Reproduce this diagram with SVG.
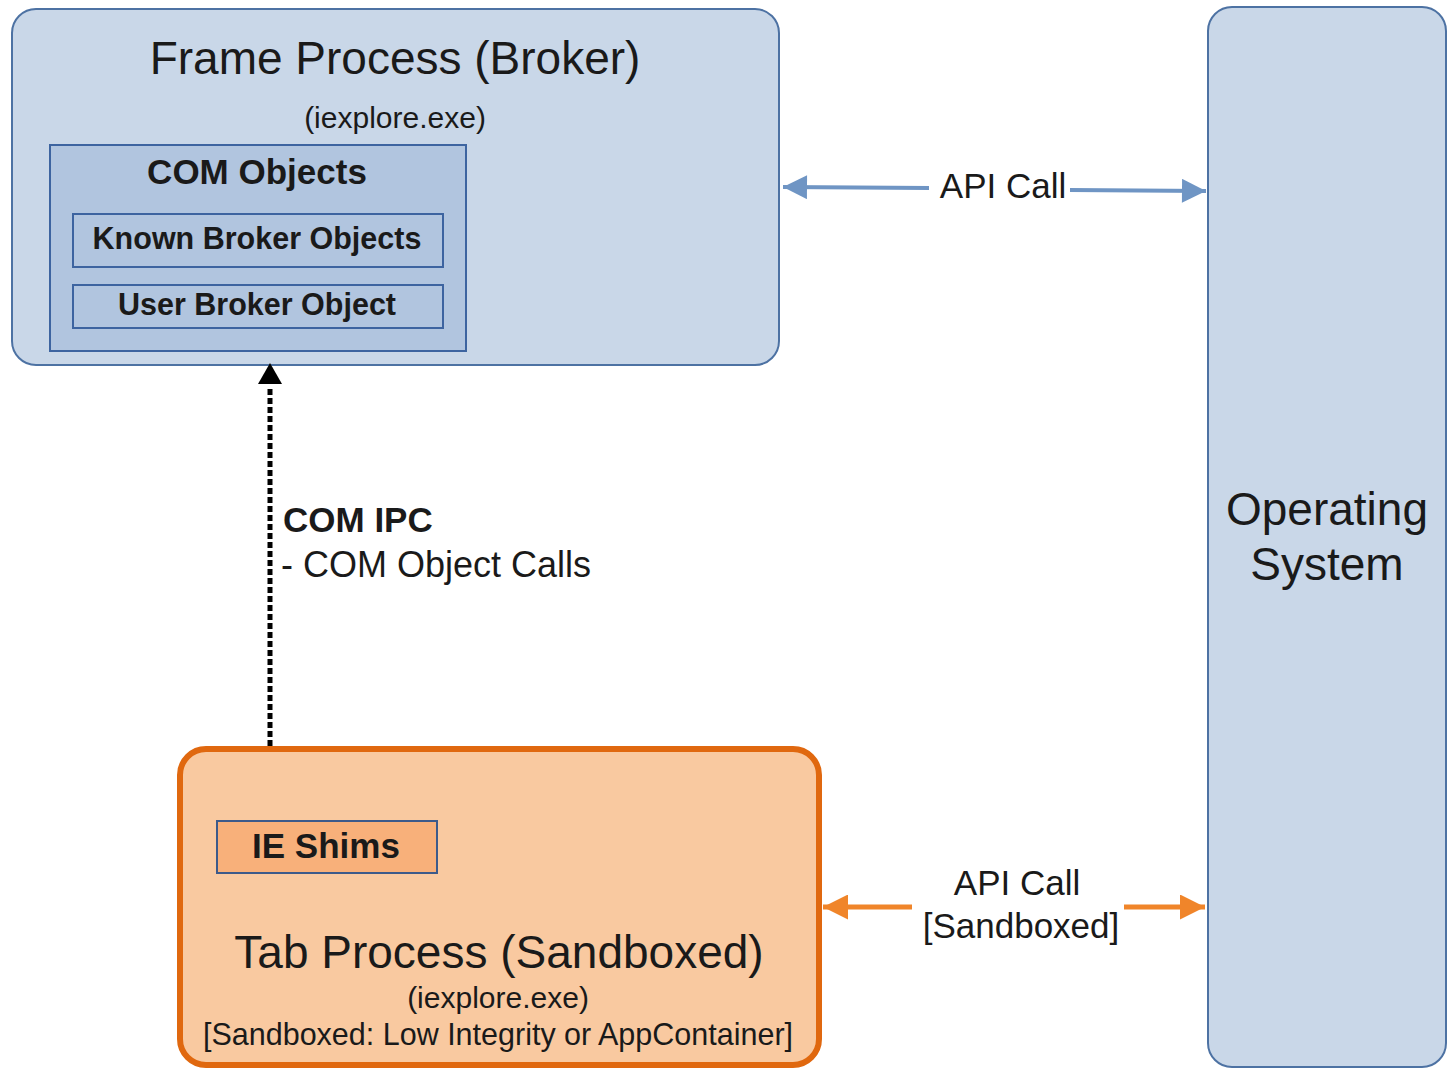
<svg xmlns="http://www.w3.org/2000/svg" width="1449" height="1069" viewBox="0 0 1449 1069">
<style>
text{font-family:"Liberation Sans",Arial,sans-serif;fill:#1a1a1a}
.b{font-weight:bold}
.m{text-anchor:middle}
.blue{fill:#c9d7e8;stroke:#4d72a3;stroke-width:2}
.inner{fill:#b1c5df;stroke:#3d64a0;stroke-width:2}
</style>
<defs>
<marker id="ab" viewBox="0 0 10 10" refX="10" refY="5" markerWidth="8" markerHeight="6" markerUnits="strokeWidth" orient="auto-start-reverse"><path d="M0,0L10,5L0,10z" fill="#6f95c4"/></marker>
<marker id="ao" viewBox="0 0 10 10" refX="10" refY="5" markerWidth="7" markerHeight="5" markerUnits="strokeWidth" orient="auto-start-reverse"><path d="M0,0L10,5L0,10z" fill="#f0852a"/></marker>
</defs>
<rect width="1449" height="1069" fill="#fff"/>
<g id="frame">
<rect class="blue" x="12" y="9" width="767" height="356" rx="24"/>
<text class="m" x="395" y="74" font-size="46">Frame Process (Broker)</text>
<text class="m" x="395" y="128" font-size="30">(iexplore.exe)</text>
</g>
<g id="com-objects">
<rect class="inner" x="50" y="145" width="416" height="206"/>
<text class="m b" x="257" y="184" font-size="35">COM Objects</text>
</g>
<g id="known-broker">
<rect class="inner" x="73" y="214" width="370" height="53"/>
<text class="m b" x="257" y="249" font-size="30.5">Known Broker Objects</text>
</g>
<g id="user-broker">
<rect class="inner" x="73" y="285" width="370" height="43"/>
<text class="m b" x="257" y="315" font-size="30.5">User Broker Object</text>
</g>
<g id="os">
<rect class="blue" x="1208" y="7" width="238" height="1060" rx="24"/>
<text class="m" x="1327" y="525" font-size="46">Operating</text>
<text class="m" x="1327" y="580" font-size="46">System</text>
</g>
<g id="tab">
<rect x="180" y="749" width="639" height="316" rx="26" fill="#f9c9a0" stroke="#e0680f" stroke-width="6"/>
<text class="m" x="499" y="968" font-size="46">Tab Process (Sandboxed)</text>
<text class="m" x="498" y="1008" font-size="30">(iexplore.exe)</text>
<text class="m" x="498" y="1045" font-size="30.5">[Sandboxed: Low Integrity or AppContainer]</text>
</g>
<g id="ie-shims">
<rect x="217" y="821" width="220" height="52" fill="#f8b07a" stroke="#3d5a8a" stroke-width="2"/>
<text class="m b" x="326" y="858" font-size="35">IE Shims</text>
</g>
<g id="connectors">
<line x1="929" y1="188" x2="783" y2="187" stroke="#6f95c4" stroke-width="4" marker-end="url(#ab)"/>
<line x1="1070" y1="190" x2="1206" y2="191" stroke="#6f95c4" stroke-width="4" marker-end="url(#ab)"/>
<text class="m" x="1003" y="198" font-size="35">API Call</text>
<line x1="912" y1="907" x2="823" y2="907" stroke="#f0852a" stroke-width="5" marker-end="url(#ao)"/>
<line x1="1124" y1="907" x2="1205" y2="907" stroke="#f0852a" stroke-width="5" marker-end="url(#ao)"/>
<text class="m" x="1017" y="895" font-size="35">API Call</text>
<text class="m" x="1021" y="938" font-size="35">[Sandboxed]</text>
<line x1="270" y1="746" x2="270" y2="386" stroke="#000" stroke-width="5" stroke-dasharray="6 3"/>
<path d="M270,363L282,384L258,384z" fill="#000"/>
<text class="b" x="283" y="532" font-size="35">COM IPC</text>
<text x="281" y="577" font-size="36">- COM Object Calls</text>
</g>
</svg>
